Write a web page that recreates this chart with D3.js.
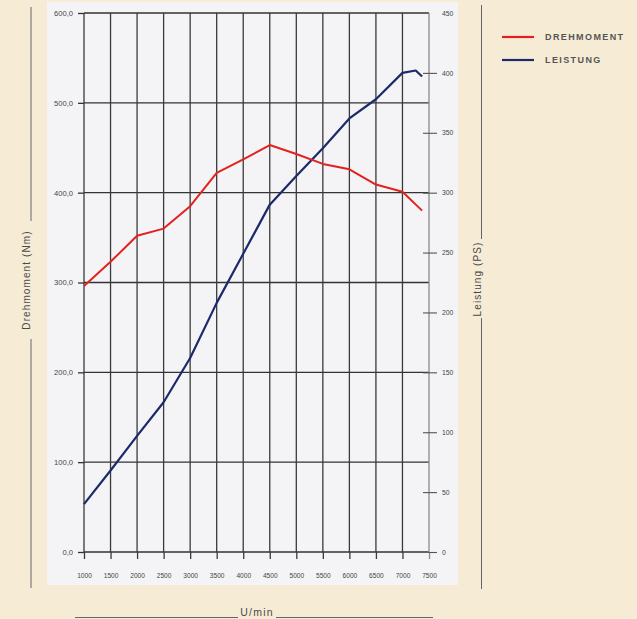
<!DOCTYPE html>
<html>
<head>
<meta charset="utf-8">
<script src="https://cdn.jsdelivr.net/npm/d3@7"></script>
<style>
  body { margin: 0; background: #f6ecd6; }
  svg { display: block; }
  text { font-family: "Liberation Sans", Arial, sans-serif; }
</style>
</head>
<body>
<div id="chart"></div>
<script>
// DATA
var rpmTicks = [1000,1500,2000,2500,3000,3500,4000,4500,5000,5500,6000,6500,7000,7500];
var nmTicks = [0,100,200,300,400,500,600];
var psTicks = [0,50,100,150,200,250,300,350,400,450];

var torqueRpm = [1000,1500,2000,2500,3000,3500,4000,4500,5000,5500,6000,6500,7000,7370];
var torqueNm  = [296, 323, 352, 360, 385, 422, 437, 453, 443, 432, 426, 409, 401, 380];

var powerRpm = [1000,1500,2000,2500,3000,3500,4000,4500,5000,5500,6000,6500,7000,7250,7370];
var powerPs  = [40,  68,  97,  125, 162, 208, 249, 290, 314, 337, 362, 378, 400, 402, 397];

var seriesNames = ["DREHMOMENT", "LEISTUNG"];
var seriesColors = ["#e3211f", "#1d2a6a"];

var width = 637, height = 619;

// SCALES
var x = d3.scaleLinear().domain([1000, 7500]).range([84, 429]);
var yL = d3.scaleLinear().domain([0, 600]).range([552, 13]);
var yR = d3.scaleLinear().domain([0, 450]).range([552, 13]);

var svg = d3.select("#chart").append("svg")
    .attr("width", width)
    .attr("height", height);

// white panel
svg.append("rect")
    .attr("x", 47).attr("y", 2)
    .attr("width", 411).attr("height", 583)
    .attr("fill", "#f4f4f7");

// GRID
svg.append("g").selectAll("line.h")
  .data(nmTicks)
  .enter().append("line")
    .attr("x1", x(1000)).attr("x2", x(7500))
    .attr("y1", yL).attr("y2", yL)
    .attr("stroke", "#333")
    .attr("stroke-width", 1.3);

svg.append("g").selectAll("line.v")
  .data(rpmTicks)
  .enter().append("line")
    .attr("x1", x).attr("x2", x)
    .attr("y1", yL(600)).attr("y2", yL(0))
    .attr("stroke", function(d) { return d == 7500 ? "#8a8a8a" : "#3a3a3a"; })
    .attr("stroke-width", 1.3);

// AXES
var fmtNm = function(d) { return d3.format(".1f")(d).replace(".", ","); };

var leftAxis = svg.append("g")
    .attr("transform", "translate(" + x(1000) + ",0)")
    .call(d3.axisLeft(yL).tickValues(nmTicks).tickSizeInner(6).tickSizeOuter(0).tickPadding(5).tickFormat(fmtNm));

var bottomAxis = svg.append("g")
    .attr("transform", "translate(0," + yL(0) + ")")
    .call(d3.axisBottom(x).tickValues(rpmTicks).tickSizeInner(7).tickSizeOuter(0).tickPadding(14).tickFormat(d3.format("d")));

var rightAxis = svg.append("g")
    .attr("transform", "translate(" + x(7500) + ",0)")
    .call(d3.axisRight(yR).tickValues(psTicks).tickSizeInner(8).tickSizeOuter(0).tickPadding(5));

[leftAxis, bottomAxis, rightAxis].forEach(function(g) {
  g.select(".domain").remove();
  g.selectAll(".tick line").attr("stroke", "#333").attr("stroke-width", 1.3);
  g.selectAll(".tick text").attr("fill", "#444").attr("font-family", "Liberation Sans, Arial, sans-serif");
});
leftAxis.selectAll(".tick text").attr("font-size", 7.6);
bottomAxis.selectAll(".tick text").attr("font-size", 6.6);
bottomAxis.selectAll(".tick line").attr("stroke", function(d) { return d == 7500 ? "#8a8a8a" : "#3a3a3a"; });
rightAxis.selectAll(".tick text").attr("font-size", 6.8);
rightAxis.selectAll(".tick line")
    .attr("x1", function(d) { return d == 0 ? 0 : -6; })
    .attr("stroke", "#555")
    .attr("stroke-width", 1.1)
    .style("display", function(d) { return d == 450 ? "none" : null; });

// LINES
var torqueLine = d3.line()
    .x(function(d, i) { return x(torqueRpm[i]); })
    .y(function(d) { return yL(d); });

var powerLine = d3.line()
    .x(function(d, i) { return x(powerRpm[i]); })
    .y(function(d) { return yR(d); });

svg.append("path")
    .attr("d", powerLine(powerPs))
    .attr("fill", "none")
    .attr("stroke", seriesColors[1])
    .attr("stroke-width", 2.2)
    .attr("stroke-linejoin", "round");

svg.append("path")
    .attr("d", torqueLine(torqueNm))
    .attr("fill", "none")
    .attr("stroke", seriesColors[0])
    .attr("stroke-width", 2)
    .attr("stroke-linejoin", "round");

// AXIS TITLES with side rules
var ruleColor = "#666";

// left
svg.append("line").attr("x1", 31).attr("x2", 31).attr("y1", 7).attr("y2", 221).attr("stroke", ruleColor);
svg.append("line").attr("x1", 31).attr("x2", 31).attr("y1", 339).attr("y2", 588).attr("stroke", ruleColor);
svg.append("text")
    .attr("transform", "translate(30,280) rotate(-90)")
    .attr("text-anchor", "middle")
    .attr("font-size", 10)
    .attr("letter-spacing", 1.1)
    .attr("fill", "#4a4a4a")
    .text("Drehmoment (Nm)");

// right
svg.append("line").attr("x1", 481.5).attr("x2", 481.5).attr("y1", 5).attr("y2", 239).attr("stroke", ruleColor);
svg.append("line").attr("x1", 481.5).attr("x2", 481.5).attr("y1", 318).attr("y2", 589).attr("stroke", ruleColor);
svg.append("text")
    .attr("transform", "translate(481,279) rotate(-90)")
    .attr("text-anchor", "middle")
    .attr("font-size", 10)
    .attr("letter-spacing", 1.1)
    .attr("fill", "#4a4a4a")
    .text("Leistung (PS)");

// bottom
svg.append("line").attr("x1", 75).attr("x2", 238).attr("y1", 617.5).attr("y2", 617.5).attr("stroke", ruleColor);
svg.append("line").attr("x1", 276).attr("x2", 433).attr("y1", 617.5).attr("y2", 617.5).attr("stroke", ruleColor);
svg.append("text")
    .attr("x", 257).attr("y", 616)
    .attr("text-anchor", "middle")
    .attr("font-size", 10.5)
    .attr("letter-spacing", 1.2)
    .attr("fill", "#4a4a4a")
    .text("U/min");

// LEGEND
var legend = svg.append("g").selectAll("g")
  .data(seriesNames)
  .enter().append("g")
    .attr("transform", function(d, i) { return "translate(502," + (37 + i * 23) + ")"; });

legend.append("line")
    .attr("x1", 0).attr("x2", 32)
    .attr("stroke", function(d, i) { return seriesColors[i]; })
    .attr("stroke-width", 2.2);

legend.append("text")
    .attr("x", 43).attr("y", 3.3)
    .attr("font-size", 9)
    .attr("font-weight", "bold")
    .attr("letter-spacing", 1.4)
    .attr("fill", "#555")
    .text(function(d) { return d; });
</script>
</body>
</html>
